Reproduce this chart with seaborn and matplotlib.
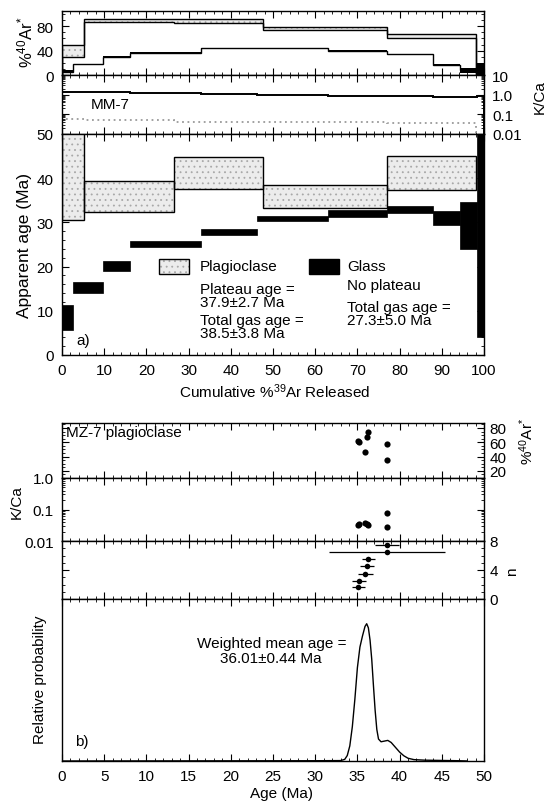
import numpy as np
import pandas as pd
import matplotlib
matplotlib.use("Agg")
import matplotlib.pyplot as plt
import seaborn as sns
from matplotlib.patches import Rectangle
from matplotlib.ticker import MultipleLocator, FixedLocator, FixedFormatter, LogLocator, NullFormatter, NullLocator

# ---------------- data: panel a (MM-7 step heating) ----------------
plag_edges = [0, 5.3, 26.6, 47.6, 77.0, 98.0]
plag_age_lo = [30.5, 32.3, 37.6, 33.3, 37.4]
plag_age_hi = [50.5, 39.4, 44.8, 38.5, 45.1]
plag_ar_lo = [30, 87, 86, 74, 60]
plag_ar_hi = [49, 92, 92, 78, 67]
plag_kca = [0.06, 0.05, 0.04, 0.04, 0.035]

glass_edges = [0, 2.5, 9.7, 16.2, 33.0, 46.3, 63.0, 77.0, 88.0, 94.3, 98.3, 100]
glass_age_lo = [5.6, 14.1, 19.0, 24.4, 27.2, 30.4, 31.3, 32.2, 29.3, 24.0, 4.0]
glass_age_hi = [11.4, 16.5, 21.2, 25.8, 28.6, 31.5, 32.8, 33.8, 32.5, 34.6, 50.5]
glass_ar_lo = [3, 17.3, 29.3, 35.8, 42.8, 42.8, 39.3, 33.3, 16.3, 4, 0]
glass_ar_hi = [8, 18.7, 30.7, 37.2, 44.2, 44.2, 40.7, 34.7, 17.7, 11, 20]
glass_kca = [1.35, 1.3, 1.3, 1.2, 1.1, 0.95, 0.9, 0.85, 0.8, 0.75, 0.85]

# ---------------- data: panel b (MZ-7 single crystals) ----------------
grain_age = [35.1, 35.2, 35.95, 36.1, 36.3, 38.5, 38.5]
grain_err = [0.75, 0.8, 0.9, 0.85, 0.8, 6.9, 1.4]
grain_n = [1.6, 2.5, 3.5, 4.5, 5.5, 6.5, 7.4]
grain_ar = [62, 60, 47, 68, 74, 35, 57]
grain_kca = [0.032, 0.034, 0.037, 0.035, 0.032, 0.028, 0.075]

prob_age = [0, 30, 33.0, 33.5, 33.8, 34.1, 34.4, 34.7, 35.0, 35.3, 35.6, 35.9, 36.1,
            36.3, 36.5, 36.7, 36.9, 37.1, 37.3, 37.5, 37.8, 38.2, 38.6, 39.0, 39.5,
            40.0, 40.5, 41.0, 41.7, 43.0, 45.0, 47.0, 48.0]
prob_val = [0, 0.002, 0.003, 0.012, 0.04, 0.11, 0.25, 0.45, 0.68, 0.83, 0.91, 0.98, 1.0,
            0.97, 0.88, 0.74, 0.55, 0.37, 0.23, 0.16, 0.14, 0.145, 0.15, 0.135, 0.10,
            0.065, 0.038, 0.02, 0.01, 0.006, 0.004, 0.002, 0.0]

# ---------------- style ----------------
sns.set_theme(style="ticks")
plt.rcParams["font.family"] = ["Liberation Sans", "DejaVu Sans"]
plt.rcParams["mathtext.fontset"] = "custom"
plt.rcParams["mathtext.rm"] = "Liberation Sans"
plt.rcParams["mathtext.it"] = "Liberation Sans:italic"
plt.rcParams["mathtext.default"] = "regular"
plt.rcParams["hatch.linewidth"] = 0.6
for key in ("text.color", "axes.labelcolor", "xtick.color", "ytick.color",
            "axes.edgecolor", "xtick.labelcolor", "ytick.labelcolor"):
    plt.rcParams[key] = "black"
FS = 11

W, H = 548, 803
fig = plt.figure(figsize=(W / 100, H / 100), dpi=100)
fig.patch.set_facecolor("white")


def rect(y0, y1, x0=62, x1=484):
    return [x0 / W, 1 - y1 / H, (x1 - x0) / W, (y1 - y0) / H]


def style(ax):
    ax.set_facecolor("white")
    for s in ax.spines.values():
        s.set_linewidth(1.0)
        s.set_color("black")
    ax.tick_params(which="both", direction="in", top=True, right=True,
                   bottom=True, left=True, labelsize=FS, colors="black",
                   labelcolor="black", pad=6)
    ax.tick_params(which="major", length=5, width=0.8)
    ax.tick_params(which="minor", length=2.5, width=0.6)
    ax.tick_params(labelbottom=False, labelleft=False, labelright=False, labeltop=False)


def lefts(edges):
    return np.array(edges[:-1])


def widths(edges):
    return np.diff(edges)


PLAG_FACE = "#ececec"
PLAG_HATCH = "#a8a8a8"

# ================= panel a =================
ax_ar = fig.add_axes(rect(12, 76))
ax_kc = fig.add_axes(rect(76, 135))
ax_age = fig.add_axes(rect(135, 356))
for ax in (ax_ar, ax_kc, ax_age):
    style(ax)
    ax.set_xlim(0, 100)
    ax.xaxis.set_major_locator(MultipleLocator(10))
    ax.xaxis.set_minor_locator(MultipleLocator(2))

# %40Ar*
ax_ar.set_ylim(0, 105)
ax_ar.yaxis.set_major_locator(FixedLocator([0, 40, 80]))
ax_ar.yaxis.set_minor_locator(MultipleLocator(10))
ax_ar.tick_params(labelleft=True)
pl_lo = np.array(plag_ar_lo)
pl_hi = np.array(plag_ar_hi)
ax_ar.bar(lefts(plag_edges), pl_hi - pl_lo, width=widths(plag_edges), bottom=pl_lo,
          align="edge", facecolor=PLAG_FACE, edgecolor=PLAG_HATCH, hatch="...", linewidth=0)
ax_ar.stairs(plag_ar_hi, plag_edges, color="black", lw=1.0)
ax_ar.stairs(plag_ar_lo, plag_edges, color="black", lw=1.0)
gl_lo = np.array(glass_ar_lo)
gl_hi = np.array(glass_ar_hi)
ax_ar.stairs((gl_lo + gl_hi) / 2, glass_edges, color="black", lw=1.0)
ax_ar.bar(lefts(glass_edges), gl_hi - gl_lo, width=widths(glass_edges), bottom=gl_lo,
          align="edge", color="black", linewidth=0)

# K/Ca
ax_kc.set_yscale("log")
ax_kc.set_ylim(0.01, 10)
ax_kc.yaxis.set_major_locator(FixedLocator([0.01, 0.1, 1, 10]))
ax_kc.yaxis.set_major_formatter(FixedFormatter(["0.01", "0.1", "1.0", "10"]))
ax_kc.yaxis.set_minor_locator(LogLocator(base=10, subs=np.arange(2, 10)))
ax_kc.yaxis.set_minor_formatter(NullFormatter())
ax_kc.tick_params(labelright=True)
ax_kc.stairs(plag_kca, plag_edges, color="#9a9a9a", lw=1.3, linestyle=(0, (1, 2)))
ax_kc.stairs(glass_kca, glass_edges, color="black", lw=1.4)
ax_kc.text(6.9, 0.34, "MM-7", fontsize=FS, va="center", ha="left")

# Age spectrum
ax_age.set_ylim(0, 50)
ax_age.yaxis.set_major_locator(MultipleLocator(10))
ax_age.yaxis.set_minor_locator(MultipleLocator(2))
ax_age.tick_params(labelleft=True, labelbottom=True)
pa_lo = np.array(plag_age_lo)
pa_hi = np.array(plag_age_hi)
ax_age.bar(lefts(plag_edges), pa_hi - pa_lo, width=widths(plag_edges), bottom=pa_lo,
           align="edge", facecolor=PLAG_FACE, edgecolor=PLAG_HATCH, hatch="...", linewidth=0)
ax_age.bar(lefts(plag_edges), pa_hi - pa_lo, width=widths(plag_edges), bottom=pa_lo,
           align="edge", fill=False, edgecolor="black", linewidth=1.0)
ga_lo = np.array(glass_age_lo)
ga_hi = np.array(glass_age_hi)
ax_age.bar(lefts(glass_edges), ga_hi - ga_lo, width=widths(glass_edges), bottom=ga_lo,
           align="edge", color="black", edgecolor="black", linewidth=0.5)

# legend
ax_age.add_patch(Rectangle((23.0, 18.4), 7.1, 3.4, facecolor=PLAG_FACE, edgecolor=PLAG_HATCH,
                           hatch="...", linewidth=0))
ax_age.add_patch(Rectangle((23.0, 18.4), 7.1, 3.4, fill=False, edgecolor="black", linewidth=1.0))
ax_age.add_patch(Rectangle((58.6, 18.4), 7.1, 3.4, facecolor="black", edgecolor="black"))
for x, y, s in [(32.6, 20.2, "Plagioclase"), (32.6, 15.0, "Plateau age ="),
                (32.6, 12.0, "37.9\u00b12.7 Ma"), (32.6, 7.9, "Total gas age ="),
                (32.6, 4.9, "38.5\u00b13.8 Ma"), (67.5, 20.2, "Glass"),
                (67.5, 15.8, "No plateau"), (67.5, 10.9, "Total gas age ="),
                (67.5, 7.9, "27.3\u00b15.0 Ma"), (3.5, 3.4, "a)")]:
    ax_age.text(x, y, s, fontsize=FS, ha="left", va="center")

fig.text(25 / W, 1 - 42 / H, r"%$^{40}$Ar$^{*}$", rotation=90, fontsize=FS + 1,
         ha="center", va="center")
fig.text(25 / W, 1 - 245 / H, "Apparent age (Ma)", rotation=90, fontsize=12.5,
         ha="center", va="center")
fig.text(540 / W, 1 - 97 / H, "K/Ca", rotation=90, fontsize=FS, ha="center", va="center")
fig.text(275 / W, 1 - 392 / H, r"Cumulative %$^{39}$Ar Released", fontsize=FS,
         ha="center", va="center")

# ================= panel b =================
bx_ar = fig.add_axes(rect(424, 479))
bx_kc = fig.add_axes(rect(479, 542))
bx_n = fig.add_axes(rect(542, 600))
bx_p = fig.add_axes(rect(600, 762))
for ax in (bx_ar, bx_kc, bx_n, bx_p):
    style(ax)
    ax.set_xlim(0, 50)
    ax.xaxis.set_major_locator(MultipleLocator(5))
    ax.xaxis.set_minor_locator(MultipleLocator(1))

grains = pd.DataFrame({"age": grain_age, "err": grain_err, "n": grain_n,
                       "ar": grain_ar, "kca": grain_kca})

bx_ar.set_ylim(10, 87)
bx_ar.yaxis.set_major_locator(FixedLocator([20, 40, 60, 80]))
bx_ar.yaxis.set_minor_locator(MultipleLocator(5))
bx_ar.tick_params(labelright=True, pad=4)
sns.scatterplot(data=grains, x="age", y="ar", ax=bx_ar, color="black", s=20,
                edgecolor="black", linewidth=0, legend=False)
bx_ar.text(0.5, 75, "MZ-7 plagioclase", fontsize=FS, ha="left", va="center")

bx_kc.set_yscale("log")
bx_kc.set_ylim(0.01, 1.0)
bx_kc.yaxis.set_major_locator(FixedLocator([0.01, 0.1, 1]))
bx_kc.yaxis.set_major_formatter(FixedFormatter(["0.01", "0.1", "1.0"]))
bx_kc.yaxis.set_minor_locator(LogLocator(base=10, subs=np.arange(2, 10)))
bx_kc.yaxis.set_minor_formatter(NullFormatter())
bx_kc.tick_params(labelleft=True)
sns.scatterplot(data=grains, x="age", y="kca", ax=bx_kc, color="black", s=20,
                edgecolor="black", linewidth=0, legend=False)

bx_n.set_ylim(0, 8)
bx_n.yaxis.set_major_locator(FixedLocator([0, 4, 8]))
bx_n.yaxis.set_minor_locator(MultipleLocator(1))
bx_n.tick_params(labelright=True, pad=4)
bx_n.errorbar(grains["age"], grains["n"], xerr=grains["err"], fmt="none",
              ecolor="black", elinewidth=0.9, capsize=0)
sns.scatterplot(data=grains, x="age", y="n", ax=bx_n, color="black", s=16,
                edgecolor="black", linewidth=0, legend=False, zorder=3)

prob = pd.DataFrame({"age": prob_age, "p": prob_val})
bx_p.set_ylim(0, 1.18)
bx_p.yaxis.set_major_locator(NullLocator())
bx_p.tick_params(labelbottom=True, left=False, right=False)
sns.lineplot(data=prob, x="age", y="p", ax=bx_p, color="black", lw=1.0)
bx_p.text(24.8, 0.86, "Weighted mean age =", fontsize=FS, ha="center", va="center")
bx_p.text(24.8, 0.75, "36.01\u00b10.44 Ma", fontsize=FS, ha="center", va="center")
bx_p.text(1.5, 0.144, "b)", fontsize=FS, ha="left", va="center")

for ax in (bx_ar, bx_kc, bx_n, bx_p, ax_ar, ax_kc, ax_age):
    ax.set_xlabel("")
    ax.set_ylabel("")

fig.text(17 / W, 1 - 502 / H, "K/Ca", rotation=90, fontsize=FS, ha="center", va="center")
fig.text(40 / W, 1 - 680 / H, "Relative probability", rotation=90, fontsize=FS,
         ha="center", va="center")
fig.text(527 / W, 1 - 441 / H, r"%$^{40}$Ar$^{*}$", rotation=90, fontsize=FS,
         ha="center", va="center")
fig.text(512 / W, 1 - 572 / H, "n", rotation=90, fontsize=FS, ha="center", va="center")
fig.text(282 / W, 1 - 794 / H, "Age (Ma)", fontsize=FS, ha="center", va="center")

fig.savefig("out.png", dpi=100, facecolor="white")
